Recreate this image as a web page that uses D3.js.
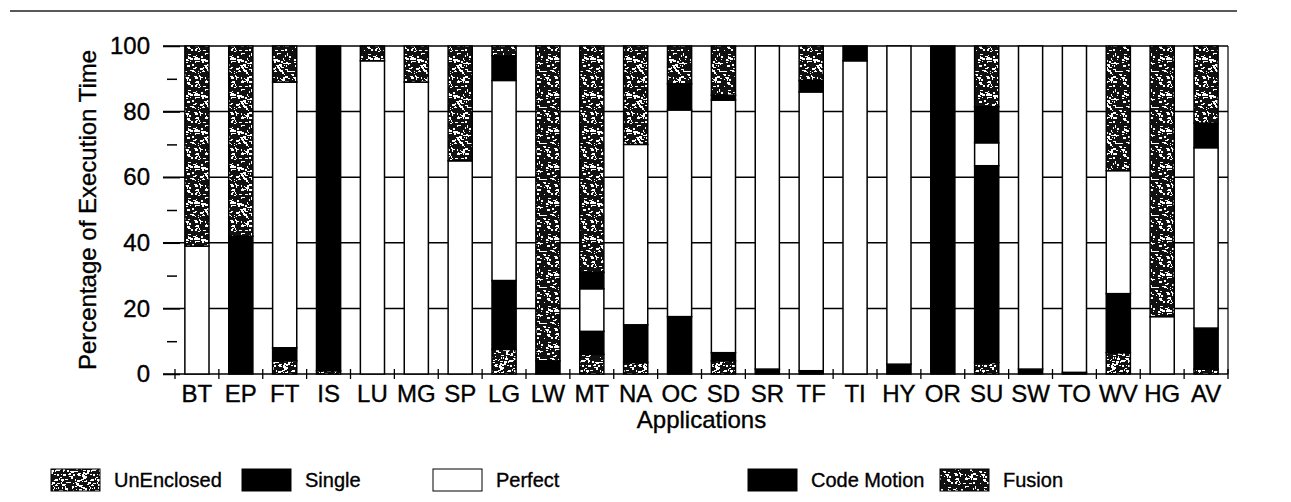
<!DOCTYPE html>
<html>
<head>
<meta charset="utf-8">
<script src="https://cdn.jsdelivr.net/npm/d3@7"></script>
<style>
  body { margin: 0; background: #fff; }
  text { font-family: 'Liberation Sans', Arial, sans-serif; fill: #000; stroke: #000; stroke-width: 0.35px; }
</style>
</head>
<body>
<div id="chart"></div>
<script>
// categories and the five stacked series (percent of execution time)
const categories = ['BT', 'EP', 'FT', 'IS', 'LU', 'MG', 'SP', 'LG', 'LW', 'MT', 'NA', 'OC',
	'SD', 'SR', 'TF', 'TI', 'HY', 'OR', 'SU', 'SW', 'TO', 'WV', 'HG', 'AV'];
const unenclosed = [0, 0, 4, 1, 0, 0, 0, 7.5, 0, 6, 3.5, 0, 4, 0, 0, 0, 0, 0, 3.5, 0, 0, 6.5, 0, 1.5];
const single = [0, 42, 4, 99, 0, 0, 0, 21, 4, 7, 11.5, 17.5, 2.5, 1.5, 1, 0, 3, 100, 60, 1.5, 0.5, 18, 0, 12.5];
const perfect = [39, 0, 81, 0, 95.5, 89, 65, 61, 0, 13, 55, 63, 77, 98.5, 85, 95.5, 97, 0, 7, 98.5, 99.5, 37.5, 17.5, 55];
const codeMotion = [0, 0, 0, 0, 0, 0, 0, 7.5, 0, 5, 0, 8, 1.5, 0, 3.5, 4.5, 0, 0, 11, 0, 0, 0, 0, 7.5];
const fusion = [61, 58, 11, 0, 4.5, 11, 35, 3, 96, 69, 30, 11.5, 15, 0, 10.5, 0, 0, 0, 18.5, 0, 0, 38, 82.5, 23.5];
const seriesNames = ['UnEnclosed', 'Single', 'Perfect', 'Code Motion', 'Fusion'];
const yTicks = [0, 20, 40, 60, 80, 100];
const yMinor = [10, 30, 50, 70, 90];

const width = 1291, height = 502;
const plotLeft = 163, plotRight = 1228, plotTop = 46, plotBottom = 374;

const svg = d3.select('#chart')
	.append('svg')
	.attr('width', width)
	.attr('height', height);

// speckle textures for the two stippled series
const defs = svg.append('defs');
function speckle(id, tile, count, seed) {
	let s = seed;
	const rnd = () => { s = (s * 16807) % 2147483647; return s / 2147483647; };
	const p = defs.append('pattern')
		.attr('id', id)
		.attr('patternUnits', 'userSpaceOnUse')
		.attr('width', tile).attr('height', tile);
	p.append('rect').attr('width', tile).attr('height', tile).attr('fill', '#111');
	for (let i = 0; i < count; i++) {
		p.append('rect')
			.attr('x', Math.floor(rnd() * tile))
			.attr('y', Math.floor(rnd() * tile))
			.attr('width', 1 + Math.floor(rnd() * 3))
			.attr('height', 1 + Math.floor(rnd() * 2))
			.attr('fill', '#fff');
	}
}
speckle('pUn', 36, 170, 12345);
speckle('pFu', 36, 130, 67890);

const fills = ['url(#pUn)', '#000', '#fff', '#000', 'url(#pFu)'];

const data = categories.map((c, i) => ({
	cat: c,
	'UnEnclosed': unenclosed[i],
	'Single': single[i],
	'Perfect': perfect[i],
	'Code Motion': codeMotion[i],
	'Fusion': fusion[i]
}));

const x = d3.scaleBand()
	.domain(categories)
	.range([175, plotRight])
	.paddingInner(0.45)
	.paddingOuter(0.225);

const y = d3.scaleLinear()
	.domain([0, 100])
	.range([plotBottom, plotTop]);

// top rule of the page
svg.append('line')
	.attr('x1', 10).attr('x2', 1237)
	.attr('y1', 11).attr('y2', 11)
	.attr('stroke', '#222').attr('stroke-width', 1.5);

// horizontal grid lines
svg.append('g')
	.selectAll('line')
	.data(yTicks)
	.join('line')
	.attr('x1', plotLeft).attr('x2', plotRight)
	.attr('y1', d => y(d)).attr('y2', d => y(d))
	.attr('stroke', '#000').attr('stroke-width', 1.5);

// right border
svg.append('line')
	.attr('x1', plotRight).attr('x2', plotRight)
	.attr('y1', plotTop).attr('y2', plotBottom)
	.attr('stroke', '#000').attr('stroke-width', 1.2);

// stacked bars
const stack = d3.stack().keys(seriesNames)(data);
svg.append('g')
	.selectAll('g')
	.data(stack)
	.join('g')
	.attr('fill', (d, i) => fills[i])
	.selectAll('rect')
	.data(d => d.filter(s => s[1] - s[0] > 0))
	.join('rect')
	.attr('x', d => x(d.data.cat))
	.attr('width', x.bandwidth())
	.attr('y', d => y(d[1]))
	.attr('height', d => y(d[0]) - y(d[1]))
	.attr('stroke', '#000')
	.attr('stroke-width', 1.5);

// y axis
const yAxis = svg.append('g')
	.attr('transform', `translate(180,0)`)
	.call(d3.axisLeft(y).tickValues(yTicks).tickSize(17).tickPadding(13));
yAxis.select('.domain').remove();
yAxis.selectAll('line').attr('stroke-width', 1.5);
yAxis.selectAll('text').style('font-size', '24px');

const yMinorAxis = svg.append('g')
	.attr('transform', `translate(177,0)`)
	.call(d3.axisLeft(y).tickValues(yMinor).tickSize(10).tickFormat(''));
yMinorAxis.select('.domain').remove();
yMinorAxis.selectAll('line').attr('stroke-width', 1.5);

// x axis labels
const xAxis = svg.append('g')
	.attr('transform', `translate(0,${plotBottom})`)
	.call(d3.axisBottom(x).tickSize(0).tickPadding(11));
xAxis.select('.domain').remove();
xAxis.selectAll('text').style('font-size', '24px');

// boundary ticks between categories
const bounds = categories.map(c => x(c) + x.bandwidth() / 2 - x.step() / 2);
bounds.push(plotRight);
svg.append('g')
	.selectAll('line')
	.data(bounds)
	.join('line')
	.attr('x1', d => d).attr('x2', d => d)
	.attr('y1', plotBottom - 5).attr('y2', plotBottom + 5)
	.attr('stroke', '#000').attr('stroke-width', 1.3);

// axis titles
svg.append('text')
	.attr('transform', `translate(96,${(plotTop + plotBottom) / 2}) rotate(-90)`)
	.attr('text-anchor', 'middle')
	.style('font-size', '24px')
	.text('Percentage of Execution Time');

svg.append('text')
	.attr('x', (175 + plotRight) / 2)
	.attr('y', 428)
	.attr('text-anchor', 'middle')
	.style('font-size', '24px')
	.text('Applications');

// legend
const legendX = [51, 242, 433, 748, 940];
const legend = svg.append('g')
	.selectAll('g')
	.data(seriesNames)
	.join('g')
	.attr('transform', (d, i) => `translate(${legendX[i]},469)`);
legend.append('rect')
	.attr('width', 49).attr('height', 22)
	.attr('fill', (d, i) => fills[i])
	.attr('stroke', '#000').attr('stroke-width', 1);
legend.append('text')
	.attr('x', 63).attr('y', 18)
	.style('font-size', '20px')
	.text(d => d);
</script>
</body>
</html>
